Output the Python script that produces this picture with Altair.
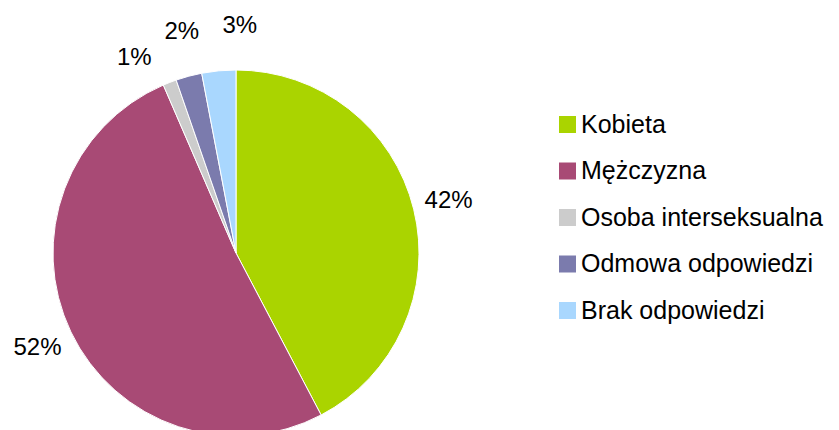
import altair as alt
import pandas as pd

categories = ["Kobieta", "Mężczyzna", "Osoba interseksualna", "Odmowa odpowiedzi", "Brak odpowiedzi"]
values = [42.3, 51.2, 1.2, 2.3, 3.0]
labels = ["42%", "52%", "1%", "2%", "3%"]
colors = ["#aad400", "#a84a75", "#cccccc", "#7b7bad", "#a9d7fe"]

df = pd.DataFrame({"cat": categories, "val": values, "label": labels, "idx": list(range(len(categories)))})

FONT = "Liberation Sans"
CX, CY = 228, 245

base = alt.Chart(df).encode(
    theta=alt.Theta("val:Q", stack=True),
    order=alt.Order("idx:Q"),
    x=alt.value(CX),
    y=alt.value(CY),
)

pie = base.mark_arc(radius=183, stroke="white", strokeWidth=1).encode(
    color=alt.Color(
        "cat:N",
        scale=alt.Scale(domain=categories, range=colors),
        sort=categories,
        legend=alt.Legend(
            title=None,
            orient="none",
            legendX=547,
            legendY=104,
            symbolType="square",
            symbolSize=289,
            symbolStrokeWidth=0,
            labelFont=FONT,
            labelFontSize=25,
            labelColor="black",
            rowPadding=20.5,
            labelOffset=1,
            labelLimit=400,
        ),
    )
)

# label placement per slice (radius, dx, dy) - styling only
placements = {0: (219, 0, 0), 1: (220, 0, 0), 2: (220, -22, 10), 3: (226, 4, -3), 4: (225, 25, -3)}
layers = [pie]
for i, (r, dx, dy) in placements.items():
    layers.append(
        base.mark_text(radius=r, dx=dx, dy=dy, font=FONT, fontSize=24, color="black")
        .encode(text="label:N", opacity=alt.condition(alt.datum.idx == i, alt.value(1), alt.value(0)))
    )

chart = alt.layer(*layers).properties(
    width=823, height=422, padding=0, autosize=alt.AutoSizeParams(type="none")
).configure_view(stroke=None)

chart.save("out.html", embed_options={"renderer": "svg", "actions": False})
